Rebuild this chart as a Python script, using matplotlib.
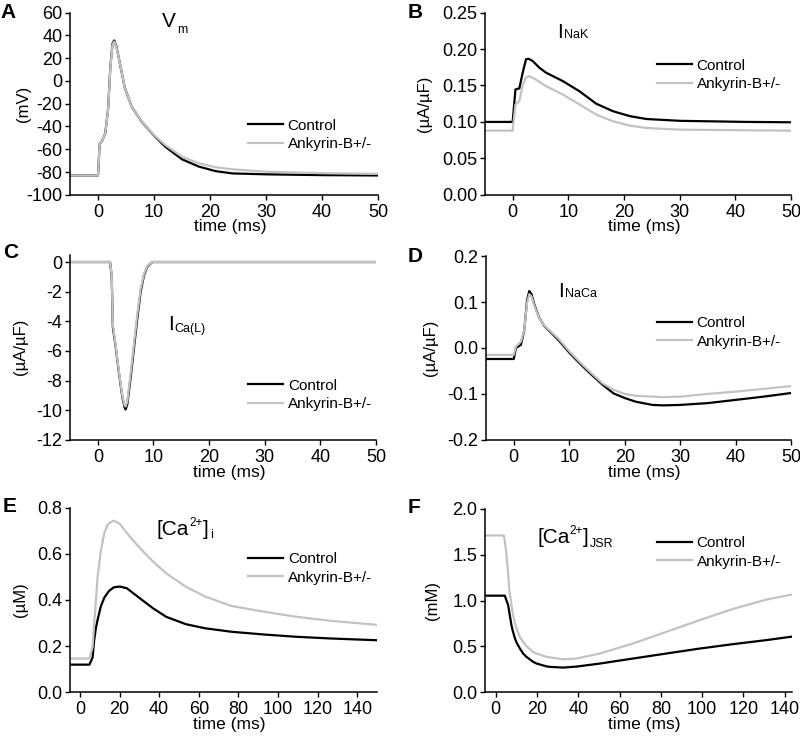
import matplotlib
matplotlib.use("Agg")
import matplotlib.pyplot as plt

plt.rcParams["font.family"] = ["Liberation Sans", "DejaVu Sans"]
plt.rcParams["axes.unicode_minus"] = False

CTRL = "#000000"
ANK = "#c2c2c2"

# A: membrane potential (mV)
t_vm = [-5, 0, 0.3, 0.7, 1.3, 1.8, 2.2, 2.6, 2.9, 3.3, 3.9, 4.8, 6.0, 7.8, 9.9, 12, 15, 18, 21, 24, 30, 40, 50]
vm_ctrl = [-83, -83, -55, -53, -46, -25, 12, 33, 35.5, 30, 15.5, -6.4, -22.5, -35.7, -47.4, -57.7, -68.8,
           -75.2, -79.2, -81.2, -82, -82.7, -83]
vm_ank = [-83, -83, -55, -53, -46, -26, 11, 32, 34.5, 29.5, 15.5, -6.4, -22.5, -35.5, -47, -56.3, -66.5,
          -72.3, -75.8, -77.6, -79.7, -81, -81.6]

# B: INaK (uA/uF)
t_nak = [-5, 0, 0.5, 1.2, 1.8, 2.4, 2.9, 3.6, 4.8, 6, 9, 12, 15, 18, 21, 24, 30, 42, 50]
nak_ctrl = [0.1, 0.1, 0.1445, 0.146, 0.1675, 0.186, 0.1865, 0.1835, 0.1743, 0.1675, 0.156, 0.142, 0.125,
            0.1147, 0.108, 0.104, 0.1015, 0.1, 0.0995]
nak_ank = [0.088, 0.088, 0.1238, 0.1284, 0.15, 0.161, 0.163, 0.1605, 0.155, 0.149, 0.1376, 0.124, 0.11,
           0.1009, 0.0949, 0.0917, 0.0894, 0.0885, 0.088]

# C: ICa(L) (uA/uF)
t_cal = [-5, 2.2, 2.5, 2.7, 3.2, 3.8, 4.4, 4.8, 5.0, 5.3, 5.9, 6.5, 7.1, 7.7, 8.3, 8.9, 9.8, 50]
cal_ctrl = [0, 0, -1.0, -4.4, -5.7, -7.5, -9.1, -9.8, -9.95, -9.6, -7.8, -5.8, -3.8, -2.0, -0.9, -0.3, 0, 0]
cal_ank = [0, 0, -0.9, -4.2, -5.6, -7.4, -9.0, -9.65, -9.75, -9.4, -7.5, -5.5, -3.5, -1.8, -0.8, -0.25, 0, 0]

# D: INaCa (uA/uF)
t_naca = [-5, 0, 0.4, 1.3, 1.9, 2.4, 2.8, 3.2, 3.7, 4.5, 5.5, 7, 8, 10, 12, 14, 16, 18, 20, 22, 25, 27, 30,
          35, 40, 45, 50]
naca_ctrl = [-0.024, -0.024, 0, 0.007, 0.039, 0.104, 0.124, 0.117, 0.095, 0.068, 0.048, 0.03, 0.018, -0.01,
             -0.035, -0.058, -0.08, -0.099, -0.109, -0.117, -0.124, -0.125, -0.124, -0.12, -0.113, -0.106, -0.098]
naca_ank = [-0.015, -0.015, 0.003, 0.014, 0.04, 0.098, 0.117, 0.112, 0.092, 0.067, 0.049, 0.032, 0.021, -0.007,
            -0.032, -0.055, -0.077, -0.091, -0.1, -0.104, -0.106, -0.107, -0.106, -0.1, -0.095, -0.089, -0.083]

# E: [Ca2+]i (uM)
t_cai = [-5, 4.8, 6.4, 7.2, 8.1, 8.9, 9.8, 10.5, 12.3, 13.8, 14.8, 17.1, 19.6, 20.4, 23.7, 30.3, 36.9, 43.5,
         53.4, 63.2, 76.4, 92.9, 109.3, 125.8, 150]
cai_ctrl = [0.119, 0.119, 0.15, 0.2255, 0.28, 0.313, 0.345, 0.371, 0.41, 0.429, 0.44, 0.455, 0.458, 0.458,
            0.451, 0.407, 0.364, 0.327, 0.295, 0.277, 0.262, 0.25, 0.24, 0.233, 0.225]
cai_ank = [0.1456, 0.1456, 0.196, 0.3, 0.4, 0.5, 0.56, 0.61, 0.691, 0.724, 0.734, 0.745, 0.734, 0.728,
           0.691, 0.625, 0.567, 0.516, 0.458, 0.415, 0.374, 0.349, 0.327, 0.31, 0.292]

# F: [Ca2+]JSR (mM)
t_jsr = [-5, 3.9, 4.4, 5.2, 6.0, 6.5, 7.6, 8.1, 9.3, 10.1, 11.7, 13.3, 14.9, 18.1, 19.8, 24.6, 26.2, 32.7,
         39.1, 50.4, 66.5, 82.7, 98.8, 114.9, 131, 145]
jsr_ctrl = [1.053, 1.053, 1.053, 1.0, 0.95, 0.88, 0.731, 0.68, 0.585, 0.54, 0.475, 0.42, 0.384, 0.33, 0.311,
            0.28, 0.275, 0.267, 0.278, 0.311, 0.366, 0.421, 0.475, 0.523, 0.567, 0.61]
jsr_ank = [1.711, 1.711, 1.65, 1.499, 1.3, 1.133, 0.95, 0.877, 0.75, 0.694, 0.6, 0.548, 0.5, 0.438, 0.42,
           0.384, 0.378, 0.358, 0.366, 0.421, 0.53, 0.658, 0.786, 0.908, 1.01, 1.072]

# title pieces: (text, kind) where kind is "n" normal, "sub", "sup"
titles = [
    [("V", "n"), ("m", "sub")],
    [("I", "n"), ("NaK", "sub")],
    [("I", "n"), ("Ca(L)", "sub")],
    [("I", "n"), ("NaCa", "sub")],
    [("[Ca", "n"), ("2+", "sup"), ("]", "n"), ("i", "sub")],
    [("[Ca", "n"), ("2+", "sup"), ("]", "n"), ("JSR", "sub")],
]

fig = plt.figure(figsize=(8, 7.38), dpi=100)

# rect = left, bottom, width, height in figure fractions
panels = [
    dict(rect=[0.0875, 0.736, 0.385, 0.247], t=t_vm, c=vm_ctrl, a=vm_ank, xlim=(-5, 50), ylim=(-100, 60),
         xt=range(0, 51, 10), yt=range(-100, 61, 20), fmt="{:.0f}", ylab="(mV)", ylx=-0.127,
         tpos=(0.30, 0.923), sub=-4.5, leg=(0.578, 0.418), letter="A", lpos=(0.0, 0.9756)),
    dict(rect=[0.606, 0.736, 0.383, 0.247], t=t_nak, c=nak_ctrl, a=nak_ank, xlim=(-5, 50), ylim=(0, 0.25),
         xt=range(0, 51, 10), yt=[0, 0.05, 0.1, 0.15, 0.2, 0.25], fmt="{:.2f}", ylab="(\u00b5A/\u00b5F)",
         ylx=-0.173, tpos=(0.235, 0.863), sub=0, leg=(0.562, 0.747), letter="B", lpos=(0.509, 0.9756)),
    dict(rect=[0.0875, 0.404, 0.3825, 0.251], t=t_cal, c=cal_ctrl, a=cal_ank, xlim=(-5, 50), ylim=(-12, 0.5),
         xt=range(0, 51, 10), yt=range(-12, 1, 2), fmt="{:.0f}", ylab="(\u00b5A/\u00b5F)", ylx=-0.137,
         tpos=(0.32, 0.595), sub=-1.5, leg=(0.582, 0.33), letter="C", lpos=(0.004, 0.65)),
    dict(rect=[0.6075, 0.404, 0.3815, 0.249], t=t_naca, c=naca_ctrl, a=naca_ank, xlim=(-5, 50), ylim=(-0.2, 0.2),
         xt=range(0, 51, 10), yt=[-0.2, -0.1, 0, 0.1, 0.2], fmt="{:.1f}", ylab="(\u00b5A/\u00b5F)", ylx=-0.157,
         tpos=(0.236, 0.777), sub=0, leg=(0.56, 0.674), letter="D", lpos=(0.509, 0.645)),
    dict(rect=[0.0875, 0.0623, 0.384, 0.2494], t=t_cai, c=cai_ctrl, a=cai_ank, xlim=(-5, 150), ylim=(0, 0.8),
         xt=range(0, 141, 20), yt=[0, 0.2, 0.4, 0.6, 0.8], fmt="{:.1f}", ylab="(\u00b5M)", ylx=-0.137,
         tpos=(0.283, 0.853), sub=-2, leg=(0.58, 0.76), letter="E", lpos=(0.003, 0.306)),
    dict(rect=[0.606, 0.0623, 0.384, 0.248], t=t_jsr, c=jsr_ctrl, a=jsr_ank, xlim=(-5.3, 143.5), ylim=(0, 2.0),
         xt=range(0, 141, 20), yt=[0, 0.5, 1.0, 1.5, 2.0], fmt="{:.1f}", ylab="(mM)", ylx=-0.147,
         tpos=(0.17, 0.814), sub=-2.5, leg=(0.56, 0.852), letter="F", lpos=(0.509, 0.305)),
]


def draw_title(ax, x, y, pieces, sub_off):
    """Chain text pieces so sub/superscripts sit right after the previous piece"""
    prev = ax.text(x, y, pieces[0][0], transform=ax.transAxes, fontsize=15, va="baseline", ha="left")
    for s, kind in pieces[1:]:
        if kind == "n":
            size, dy, dx = 15, 0, 0
        elif kind == "sub":
            size, dy, dx = 9, sub_off, 0.8
        else:
            size, dy, dx = 8.5, 6.5, 0.3
        prev = ax.annotate(s, xy=(1, y), xycoords=(prev, ax.transAxes), xytext=(dx, dy),
                           textcoords="offset points", fontsize=size, va="baseline", ha="left")


for p, title in zip(panels, titles):
    ax = fig.add_axes(p["rect"])
    ax.plot(p["t"], p["c"], color=CTRL, lw=1.6, label="Control")
    ax.plot(p["t"], p["a"], color=ANK, lw=1.6, label="Ankyrin-B+/-")
    ax.set_xlim(*p["xlim"])
    ax.set_ylim(*p["ylim"])
    ax.set_xticks(list(p["xt"]))
    ax.set_yticks(list(p["yt"]))
    ax.set_yticklabels([p["fmt"].format(v) for v in p["yt"]])
    for s in ("top", "right"):
        ax.spines[s].set_visible(False)
    for s in ("left", "bottom"):
        ax.spines[s].set_linewidth(1.1)
    ax.tick_params(direction="out", length=3.5, width=1.0, labelsize=13)
    ax.tick_params(axis="y", pad=2)
    ax.tick_params(axis="x", pad=3)
    ax.set_xlabel("time (ms)", fontsize=12.5)
    ax.xaxis.set_label_coords(0.52, -0.135)
    ax.set_ylabel(p["ylab"], fontsize=12)
    ax.yaxis.set_label_coords(p["ylx"], 0.5)
    draw_title(ax, p["tpos"][0], p["tpos"][1], title, p["sub"])
    ax.legend(loc="upper left", bbox_to_anchor=p["leg"], frameon=False, fontsize=11,
              handlelength=2.3, handletextpad=0.3, labelspacing=0.3, borderpad=0, borderaxespad=0)
    fig.text(p["lpos"][0], p["lpos"][1], p["letter"], fontsize=15, fontweight="bold", va="baseline")

fig.savefig("out.png", dpi=100)
